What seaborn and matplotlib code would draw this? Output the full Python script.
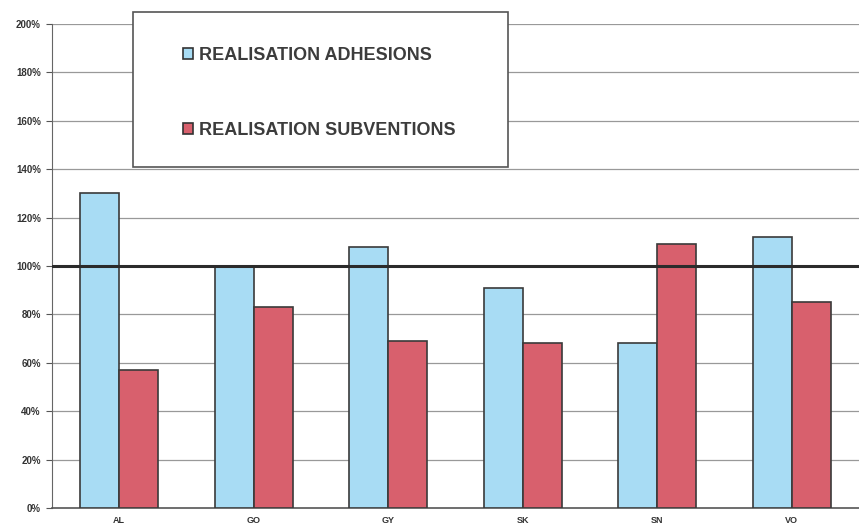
import seaborn as sns
import matplotlib.pyplot as plt
import matplotlib.patches as mpatches
import pandas as pd
import numpy as np

# Data (percent of target)
sites = ["AL", "GO", "GY", "SK", "SN", "VO"]
adhesions = [130, 100, 108, 91, 68, 112]
subventions = [57, 83, 69, 68, 109, 85]
series_names = ["REALISATION ADHESIONS", "REALISATION SUBVENTIONS"]
y_ticks = [0, 20, 40, 60, 80, 100, 120, 140, 160, 180, 200]

df = pd.DataFrame({
    "site": sites * 2,
    "value": adhesions + subventions,
    "serie": [series_names[0]] * len(sites) + [series_names[1]] * len(sites),
})

sns.set_style("white")
plt.rcParams["font.family"] = ["Liberation Sans", "DejaVu Sans"]

fig = plt.figure(figsize=(8.59, 5.24), dpi=100)
ax = fig.add_axes([0.0605, 0.0305, 0.9395, 0.9235])

palette = {series_names[0]: "#a8dcf4", series_names[1]: "#d8606d"}
sns.barplot(data=df, x="site", y="value", hue="serie", palette=palette,
            width=0.58, gap=0, edgecolor="#3a3a3a", linewidth=1.2,
            saturation=1, legend=False, ax=ax, zorder=3)

# grid + reference line at 100%
for v in y_ticks[1:]:
    ax.axhline(v, color="#999999", lw=0.9, zorder=1)
ax.axhline(100, color="#2b2b2b", lw=2.2, zorder=4)

ax.set_ylim(0, 200)
ax.set_xlim(-0.5, 5.5)
ax.set_yticks(y_ticks)
ax.set_yticklabels([f"{v}%" for v in y_ticks], fontsize=7, fontweight="bold", color="#333333")
ax.set_xticks(range(len(sites)))
ax.set_xticklabels(sites, fontsize=6.5, fontweight="bold", color="#333333")
ax.set_xticks(np.arange(-0.5, 6, 1), minor=True)
ax.tick_params(axis="x", which="major", length=0, pad=6)
ax.tick_params(axis="x", which="minor", length=4, color="#555555", direction="out")
ax.tick_params(axis="y", length=4, color="#555555", direction="out", pad=4, left=True)
ax.set_xlabel("")
ax.set_ylabel("")

for side in ["top", "right"]:
    ax.spines[side].set_visible(False)
ax.spines["left"].set_color("#666666")
ax.spines["bottom"].set_color("#555555")
ax.spines["bottom"].set_linewidth(1.2)

# legend box drawn on the figure
box = mpatches.Rectangle((133 / 859, 1 - 167 / 524), 375 / 859, 155 / 524,
                         transform=fig.transFigure, facecolor="white",
                         edgecolor="#555555", lw=1.2, zorder=10)
fig.patches.append(box)
handles = [mpatches.Patch(facecolor=palette[n], edgecolor="#333333", lw=1.2) for n in series_names]
leg = fig.legend(handles, series_names, loc="upper left",
                 bbox_to_anchor=(167 / 859, 1 - 31 / 524), frameon=False,
                 prop={"size": 13, "weight": "bold"}, labelcolor="#3c3c3c",
                 handlelength=0.55, handleheight=0.55, handletextpad=0.3,
                 labelspacing=3.2)
leg.set_zorder(20)

fig.savefig("out.png", dpi=100)
